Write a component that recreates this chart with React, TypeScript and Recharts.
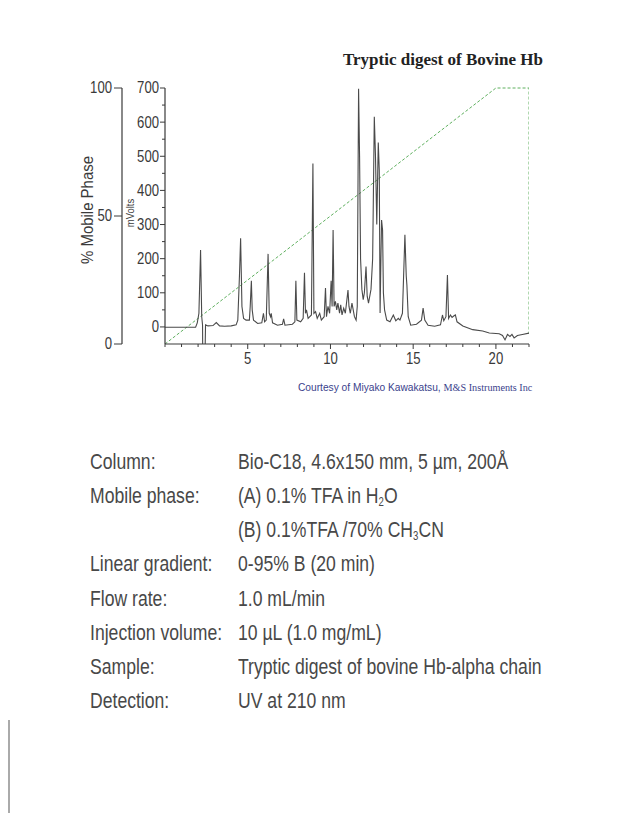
import React from 'react';
import { ComposedChart, Line, XAxis, YAxis } from 'recharts';

// ---- data ----
const times = [
  0, 1.85, 1.95, 2.05, 2.15, 2.22, 2.27, 2.28, 2.42, 2.45, 2.6, 2.9, 3.1, 3.3, 3.6, 4.0, 4.3, 4.4, 4.5, 4.57, 4.65, 4.75,
  4.9, 5.1, 5.15, 5.22, 5.27, 5.35, 5.6, 5.85, 5.95, 6.02, 6.12, 6.23, 6.3, 6.38, 6.42, 6.5, 6.8, 7.1, 7.17, 7.25,
  7.7, 7.85, 7.91, 7.97, 8.2, 8.35, 8.43, 8.49, 8.55, 8.65, 8.85, 8.94, 9.0, 9.1, 9.2, 9.35, 9.45, 9.62, 9.7, 9.76,
  9.85, 9.95, 10.04, 10.1, 10.16, 10.22, 10.3, 10.38, 10.45, 10.55, 10.62, 10.7, 10.8, 10.9, 11.06, 11.12, 11.2, 11.3,
  11.45, 11.55, 11.62, 11.7, 11.76, 11.82, 11.9, 11.98, 12.05, 12.15, 12.22, 12.3, 12.45, 12.55, 12.65, 12.72, 12.8,
  12.89, 12.95, 13.0, 13.05, 13.09, 13.15, 13.2, 13.27, 13.4, 13.6, 13.8, 13.95, 14.1, 14.2, 14.35, 14.5, 14.58, 14.62,
  14.7, 14.85, 15.2, 15.5, 15.6, 15.7, 15.9, 16.3, 16.65, 16.77, 16.85, 16.98, 17.07, 17.14, 17.25, 17.35, 17.45, 17.55,
  17.65, 18.0, 18.6, 19.2, 19.6, 20.2, 20.4, 20.55, 20.7, 20.85, 20.97, 21.1, 21.3, 21.6, 22.0,
];
const signal = [
  -1, -1, 12, 40, 225, 30, 5, -80, -80, 6, 3, 4, 13, 3, 2, 3, 6, 20, 150, 260, 60, 25,
  20, 20, 60, 135, 50, 20, 10, 12, 40, 15, 20, 214, 40, 30, 40, 12, 5, 8, 24, 5,
  8, 15, 135, 20, 15, 25, 159, 40, 50, 25, 35, 479, 40, 45, 25, 40, 20, 30, 114, 30,
  60, 40, 135, 60, 284, 60, 75, 50, 70, 40, 65, 35, 55, 40, 108, 60, 40, 70,
  30, 20, 60, 698, 500, 200, 110, 80, 100, 177, 90, 70, 110, 200, 616, 504, 300,
  540, 460, 41, 200, 313, 284, 100, 50, 20, 15, 35, 18, 25, 20, 40, 270, 150, 123,
  30, 5, 8, 20, 55, 20, 5, 2, 6, 35, 18, 30, 152, 25, 35, 28, 32, 35,
  15, 3, -8, -12, -18, -20, -25, -38, -22, -28, -22, -32, -25, -22, -18,
];
const gradTimes = [0, 20, 22, 22];
const gradPct = [0, 100, 100, 4];

const xTicks = Array.from({ length: 23 }, (_, i) => i);
const mvTicks = [0, 50, 100, 150, 200, 250, 300, 350, 400, 450, 500, 550, 600, 650, 700];
const pctTicks = [0, 50, 100];

const title = 'Tryptic digest of Bovine Hb';
const courtesySans = 'Courtesy of Miyako Kawakatsu, ';
const courtesySerif = 'M&S Instruments Inc';

const traceData = times.map((t, i) => ({ t, mv: signal[i] }));
const gradData = gradTimes.map((t, i) => ({ t, pct: gradPct[i] }));

const AX = '#3a3a3a';
const TXT = '#3a3a3a';
const SANS = "'Liberation Sans', Arial, sans-serif";

const XTick = (props: any) => {
  const { x, y, payload } = props;
  const v = payload.value;
  const major = v % 5 === 0 && v !== 0;
  return (
    <g>
      <line x1={x} x2={x} y1={y} y2={y + (major ? 5 : 3)} stroke={AX} strokeWidth={1} />
      {major && (
        <text transform={`translate(${x},${y + 15}) scale(0.82,1)`} textAnchor="middle" dominantBaseline="central" fontSize={16} fontFamily={SANS} fill={TXT}>
          {v}
        </text>
      )}
    </g>
  );
};

const MvTick = (props: any) => {
  const { x, y, payload } = props;
  const v = payload.value;
  const major = v % 100 === 0;
  return (
    <g>
      <line x1={x - (major ? 5 : 3)} x2={x} y1={y} y2={y} stroke={AX} strokeWidth={1} />
      {major && (
        <text transform={`translate(${x - 6},${y}) scale(0.82,1)`} textAnchor="end" dominantBaseline="central" fontSize={16} fontFamily={SANS} fill={TXT}>
          {v}
        </text>
      )}
    </g>
  );
};

const PctTick = (props: any) => {
  const { x, y, payload } = props;
  const v = payload.value;
  return (
    <g>
      <line x1={x - 8} x2={x} y1={y} y2={y} stroke={AX} strokeWidth={1} />
      <text transform={`translate(${x - 10},${y}) scale(0.82,1)`} textAnchor="end" dominantBaseline="central" fontSize={16} fontFamily={SANS} fill={TXT}>
        {v}
      </text>
    </g>
  );
};

const SUB: React.CSSProperties = { fontSize: 12, verticalAlign: -3, lineHeight: 0 };

const rows: [string, React.ReactNode][] = [
  ['Column:', <>Bio-C18, 4.6x150 mm, 5 µm, 200Å</>],
  ['Mobile phase:', <>(A) 0.1% TFA in H<sub style={SUB}>2</sub>O</>],
  ['', <>(B) 0.1%TFA /70% CH<sub style={SUB}>3</sub>CN</>],
  ['Linear gradient:', <>0-95% B (20 min)</>],
  ['Flow rate:', <>1.0 mL/min</>],
  ['Injection volume:', <>10 µL (1.0 mg/mL)</>],
  ['Sample:', <>Tryptic digest of bovine Hb-alpha chain</>],
  ['Detection:', <>UV at 210 nm</>],
];
const rowCenters = [462, 496, 530, 564, 599, 633, 667, 701];

const textStyle = (left: number, center: number): React.CSSProperties => ({
  position: 'absolute',
  left,
  top: center - 11,
  fontSize: 22,
  lineHeight: '22px',
  fontFamily: SANS,
  color: '#484848',
  whiteSpace: 'nowrap',
  transform: 'scaleX(0.8)',
  transformOrigin: 'left center',
});

export default function App() {
  return (
    <div style={{ position: 'absolute', left: 0, top: 0, width: 621, height: 813, background: '#fff', overflow: 'hidden' }}>
      <div style={{ position: 'absolute', left: 0, top: 0 }}>
        <ComposedChart width={621} height={400} margin={{ top: 88, right: 92, bottom: 26, left: 72 }}>
          <XAxis
            dataKey="t"
            type="number"
            domain={[0, 22]}
            ticks={xTicks}
            interval={0}
            allowDataOverflow
            height={30}
            tickSize={0}
            tickMargin={0}
            tickLine={false}
            tick={<XTick />}
            axisLine={{ stroke: AX, strokeWidth: 1.2 }}
          />
          <YAxis
            yAxisId="mv"
            orientation="left"
            type="number"
            domain={[-50, 700]}
            allowDataOverflow
            ticks={mvTicks}
            interval={0}
            width={43}
            tickSize={0}
            tickMargin={0}
            tickLine={false}
            tick={<MvTick />}
            axisLine={{ stroke: AX, strokeWidth: 1.2 }}
            label={(p: any) => {
              const vb = p.viewBox;
              const cx = vb.x + 8;
              const cy = vb.y + vb.height / 2 - 3;
              return (
                <text transform={`translate(${cx},${cy}) rotate(-90) scale(0.9,1)`} textAnchor="middle" dominantBaseline="central" fontSize={10.5} fontFamily={SANS} fill={TXT}>
                  mVolts
                </text>
              );
            }}
          />
          <YAxis
            yAxisId="pct"
            orientation="left"
            type="number"
            domain={[0, 100]}
            ticks={pctTicks}
            interval={0}
            width={50}
            tickSize={0}
            tickMargin={0}
            tickLine={false}
            tick={<PctTick />}
            axisLine={{ stroke: AX, strokeWidth: 1.2 }}
            label={(p: any) => {
              const vb = p.viewBox;
              const cx = vb.x + 15;
              const cy = vb.y + vb.height / 2 - 6;
              return (
                <text transform={`translate(${cx},${cy}) rotate(-90) scale(0.88,1)`} textAnchor="middle" dominantBaseline="central" fontSize={17} fontFamily={SANS} fill={TXT}>
                  % Mobile Phase
                </text>
              );
            }}
          />
          <Line
            yAxisId="pct"
            data={gradData}
            dataKey="pct"
            type="linear"
            stroke="#5fb05f"
            strokeWidth={1}
            strokeDasharray="3 2"
            dot={false}
            isAnimationActive={false}
          />
          <Line
            yAxisId="mv"
            data={traceData}
            dataKey="mv"
            type="linear"
            stroke="#4a4a4a"
            strokeWidth={1.1}
            dot={false}
            isAnimationActive={false}
          />
        </ComposedChart>
      </div>

      <div style={{ position: 'absolute', left: 343, top: 50, fontFamily: "'Liberation Serif', 'Times New Roman', serif", fontWeight: 'bold', fontSize: 17, lineHeight: '19px', color: '#222', whiteSpace: 'nowrap' }}>
        {title}
      </div>

      <div style={{ position: 'absolute', left: 298, top: 382, fontSize: 10.2, lineHeight: '12px', color: '#3a3f8c', whiteSpace: 'nowrap' }}>
        <span style={{ fontFamily: SANS }}>{courtesySans}</span>
        <span style={{ fontFamily: "'Liberation Serif', serif" }}>{courtesySerif}</span>
      </div>

      {rows.map(([label, value], i) => (
        <React.Fragment key={i}>
          {label && <div style={textStyle(90, rowCenters[i])}>{label}</div>}
          <div style={textStyle(238, rowCenters[i])}>{value}</div>
        </React.Fragment>
      ))}

      <div style={{ position: 'absolute', left: 8, top: 720, width: 2, height: 93, background: '#aaa' }} />
    </div>
  );
}
